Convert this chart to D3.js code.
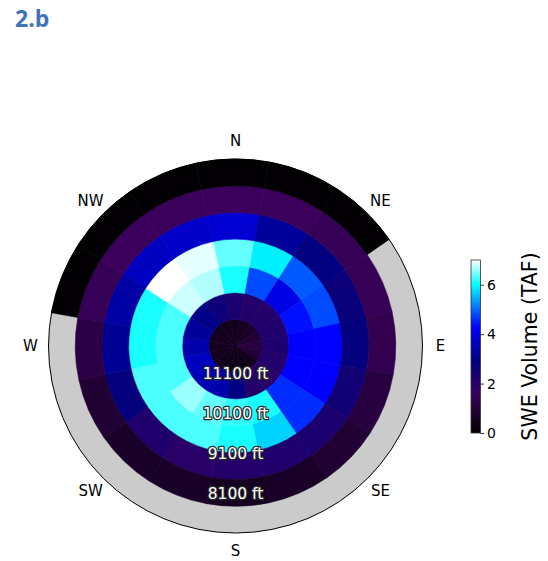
<!DOCTYPE html>
<html>
<head>
<meta charset="utf-8">
<script src="https://cdn.jsdelivr.net/npm/d3@7"></script>
<style>
  html, body { margin: 0; padding: 0; background: #ffffff; }
  svg { display: block; }
</style>
</head>
<body>
<script>
// Aspect sectors, clockwise from north
const aspects = ["N", "NNE", "NE", "ENE", "E", "ESE", "SE", "SSE",
                 "S", "SSW", "SW", "WSW", "W", "WNW", "NW", "NNW"];

// Elevation band edges (ft), summit at the centre
const bandEdges = [11800, 11133, 10467, 9800, 9133, 8467, 7800, 7133];

// SWE volume (TAF) per elevation band, one value per aspect (null = no data)
const swe11133 = [0.5, 0.6, 0.7, 0.9, 1.1, 1.0, 0.5, 0.4, 0.4, 0.4, 0.5, 0.5, 0.55, 0.6, 0.5, 0.5];
const swe10467 = [2.3, 2.1, 2.1, 2.2, 2.2, 2.1, 2.0, 2.1, 2.9, 3.4, 3.5, 3.6, 3.4, 3.2, 3.0, 2.6];
const swe9800  = [6.1, 4.8, 4.0, 4.4, 4.3, 4.3, 4.6, 6.1, 6.2, 6.4, 6.6, 6.3, 6.3, 6.3, 6.8, 6.7];
const swe9133  = [6.4, 5.9, 4.9, 4.8, 4.3, 4.3, 4.6, 5.7, 6.1, 6.3, 6.3, 6.3, 6.1, 6.1, 7.0, 6.9];
const swe8467  = [3.8, 3.2, 2.9, 2.7, 2.8, 2.5, 2.3, 2.2, 2.1, 2.0, 2.2, 2.8, 3.1, 3.3, 3.6, 3.7];
const swe7800  = [1.6, 1.6, 1.5, 1.5, 1.4, 1.1, 0.9, 0.7, 0.6, 0.7, 0.7, 0.9, 1.2, 1.5, 1.6, 1.6];
const swe7133  = [0.05, 0.05, 0.05, null, null, null, null, null, null, null, null, null, null, 0.05, 0.05, 0.05];

// Bands ordered from the centre outwards
const bands = [swe11133, swe10467, swe9800, swe9133, swe8467, swe7800, swe7133];

// Radial tick labels and compass labels
const elevationTicks = [11100, 10100, 9100, 8100];
const compassLabels = ["N", "NE", "E", "SE", "S", "SW", "W", "NW"];

// Colour bar
const colorbarTicks = [0, 2, 4, 6];
const sweMin = 0, sweMax = 7.0;
const cmapStops  = [0, 1.6, 2.9, 4.3, 6.0, 7.0];
const cmapColors = ["#000000", "#3a005c", "#000080", "#0000ff", "#00ffff", "#ffffff"];

const width = 548, height = 561;
const cx = 235.5, cy = 346, R = 187;
const sectorOffsetDeg = -1;

const svg = d3.select("body").append("svg")
  .attr("width", width).attr("height", height);

const color = d3.scaleLinear().domain(cmapStops).range(cmapColors)
  .interpolate(d3.interpolateRgb).clamp(true);

const rScale = d3.scaleLinear().domain([bandEdges[0], bandEdges[bandEdges.length - 1]]).range([0, R]);

const toRad = d => d * Math.PI / 180;
const nSec = aspects.length;
const step = 360 / nSec;
const theta = d3.scaleLinear()
  .domain([-0.5, nSec - 0.5])
  .range([toRad(-step / 2 + sectorOffsetDeg), toRad(360 - step / 2 + sectorOffsetDeg)]);

// Title
svg.append("text")
  .attr("x", 15).attr("y", 27)
  .attr("font-family", "'Open Sans', sans-serif")
  .attr("font-weight", 700)
  .attr("font-size", 23)
  .attr("fill", "#3d74ba")
  .text("2.b");

const polar = svg.append("g").attr("transform", `translate(${cx},${cy})`);

// Axes background (shows through where no data)
polar.append("circle").attr("r", R).attr("fill", "#cbcbcb");

// Cells
const cells = [];
bands.forEach((vals, b) => {
  vals.forEach((v, i) => {
    if (v === null) return;
    cells.push({ b, i, v });
  });
});

const arc = d3.arc();
polar.append("g").selectAll("path").data(cells).join("path")
  .attr("d", d => arc({
    innerRadius: rScale(bandEdges[d.b]),
    outerRadius: rScale(bandEdges[d.b + 1]),
    startAngle: theta(d.i - 0.5),
    endAngle: theta(d.i + 0.5)
  }))
  .attr("fill", d => color(d.v))
  .attr("stroke", d => color(d.v))
  .attr("stroke-width", 0.6)
  .attr("stroke-linejoin", "miter");

// Outer spine
polar.append("circle").attr("r", R).attr("fill", "none")
  .attr("stroke", "#000").attr("stroke-width", 1);

// Compass labels
const compassR = 205;
polar.append("g").selectAll("text").data(compassLabels).join("text")
  .attr("x", (d, k) => compassR * Math.sin(toRad(k * 45)))
  .attr("y", (d, k) => -compassR * Math.cos(toRad(k * 45)))
  .attr("text-anchor", "middle")
  .attr("dominant-baseline", "central")
  .attr("font-family", "'DejaVu Sans', sans-serif")
  .attr("font-size", 15)
  .attr("fill", "#000")
  .text(d => d);

// Elevation labels along the south radius
polar.append("g").selectAll("text").data(elevationTicks).join("text")
  .attr("x", 0)
  .attr("y", d => rScale(d))
  .attr("text-anchor", "middle")
  .attr("dominant-baseline", "central")
  .attr("font-family", "'DejaVu Sans', sans-serif")
  .attr("font-size", 15.5)
  .attr("fill", "#ffffff")
  .attr("stroke", "#2a2a2a")
  .attr("stroke-width", 2.5)
  .attr("stroke-linejoin", "round")
  .attr("paint-order", "stroke")
  .text(d => `${d} ft`);

// Colour bar
const cbX = 471, cbW = 9.5, cbTop = 260, cbBottom = 433;
const cbScale = d3.scaleLinear().domain([sweMin, sweMax]).range([cbBottom, cbTop]);

const defs = svg.append("defs");
const grad = defs.append("linearGradient").attr("id", "cbgrad")
  .attr("x1", 0).attr("y1", 1).attr("x2", 0).attr("y2", 0);
d3.range(0, 101).forEach(k => {
  const v = sweMin + (sweMax - sweMin) * k / 100;
  grad.append("stop").attr("offset", `${k}%`).attr("stop-color", color(v));
});

svg.append("rect")
  .attr("x", cbX).attr("y", cbTop)
  .attr("width", cbW).attr("height", cbBottom - cbTop)
  .attr("fill", "url(#cbgrad)");
svg.append("rect")
  .attr("x", cbX).attr("y", cbTop)
  .attr("width", cbW).attr("height", cbBottom - cbTop)
  .attr("fill", "none").attr("stroke", "#333").attr("stroke-width", 0.8);

const cbAxis = d3.axisRight(cbScale).tickValues(colorbarTicks).tickSize(3.5).tickPadding(3)
  .tickFormat(d3.format("d"));
const cbG = svg.append("g").attr("transform", `translate(${cbX + cbW},0)`).call(cbAxis);
cbG.select(".domain").remove();
cbG.selectAll("line").attr("stroke", "#000").attr("stroke-width", 0.8);
cbG.selectAll("text")
  .attr("font-family", "'DejaVu Sans', sans-serif")
  .attr("font-size", 14)
  .attr("fill", "#000");

svg.append("text")
  .attr("transform", `translate(530,${(cbTop + cbBottom) / 2}) rotate(-90)`)
  .attr("text-anchor", "middle")
  .attr("dominant-baseline", "central")
  .attr("font-family", "'DejaVu Sans', sans-serif")
  .attr("font-size", 20.5)
  .attr("fill", "#000")
  .text("SWE Volume (TAF)");
</script>
</body>
</html>
